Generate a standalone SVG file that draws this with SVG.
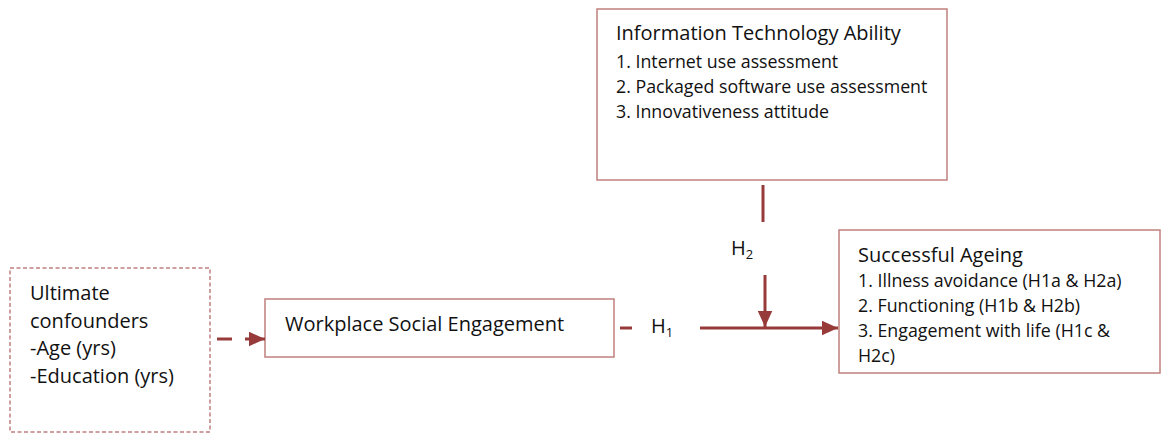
<svg xmlns="http://www.w3.org/2000/svg" width="1166" height="434" viewBox="0 0 1166 434">
<style>
.box{fill:#fff;stroke:#c0807f;stroke-width:1.5}
.dbox{fill:#fff;stroke:#c0807f;stroke-width:1.5;stroke-dasharray:4 2.5}
.t{font-family:"Open Sans","Liberation Sans",sans-serif;fill:#111}
.ttl{font-size:20px}
.ln{font-size:17.8px}
.conn{stroke:#963b39;stroke-width:3;fill:none}
</style>
<defs>
<marker id="ah" markerWidth="5.5" markerHeight="5" refX="5.5" refY="2.5" orient="auto" markerUnits="strokeWidth">
<path d="M0,0 L5.5,2.5 L0,5 z" fill="#963b39"/>
</marker>
</defs>
<rect width="1166" height="434" fill="#fff"/>
<g id="it-ability">
<rect class="box" x="597" y="9" width="350" height="171"/>
<text class="t ttl" x="616" y="40">Information Technology Ability</text>
<text class="t ln" x="616" y="68">1. Internet use assessment</text>
<text class="t ln" x="616" y="93">2. Packaged software use assessment</text>
<text class="t ln" x="616" y="118">3. Innovativeness attitude</text>
</g>
<g id="confounders">
<rect class="dbox" x="10" y="268" width="200" height="164"/>
<text class="t ttl" x="30" y="300">Ultimate</text>
<text class="t ttl" x="30" y="328">confounders</text>
<text class="t ttl" x="30" y="355">-Age (yrs)</text>
<text class="t ttl" x="30" y="383">-Education (yrs)</text>
</g>
<g id="workplace">
<rect class="box" x="265" y="299" width="349" height="58"/>
<text class="t ttl" x="285" y="331">Workplace Social Engagement</text>
</g>
<g id="ageing">
<rect class="box" x="839" y="230" width="321" height="143"/>
<text class="t ttl" x="858" y="262">Successful Ageing</text>
<text class="t ln" x="858" y="287">1. Illness avoidance (H1a &amp; H2a)</text>
<text class="t ln" x="858" y="312">2. Functioning (H1b &amp; H2b)</text>
<text class="t ln" x="858" y="337">3. Engagement with life (H1c &amp;</text>
<text class="t ln" x="858" y="362">H2c)</text>
</g>
<g id="connectors">
<path class="conn" d="M217,339 H232"/>
<path class="conn" d="M245,339 H265" marker-end="url(#ah)"/>
<path class="conn" d="M620,328 H632"/>
<path class="conn" d="M700,328 H838" marker-end="url(#ah)"/>
<path class="conn" d="M763,185 V222"/>
<path class="conn" d="M765,275 V327" marker-end="url(#ah)"/>
<text class="t ttl" x="651" y="333">H<tspan font-size="13" dy="4">1</tspan></text>
<text class="t ttl" x="731" y="255">H<tspan font-size="13" dy="4">2</tspan></text>
</g>
</svg>
